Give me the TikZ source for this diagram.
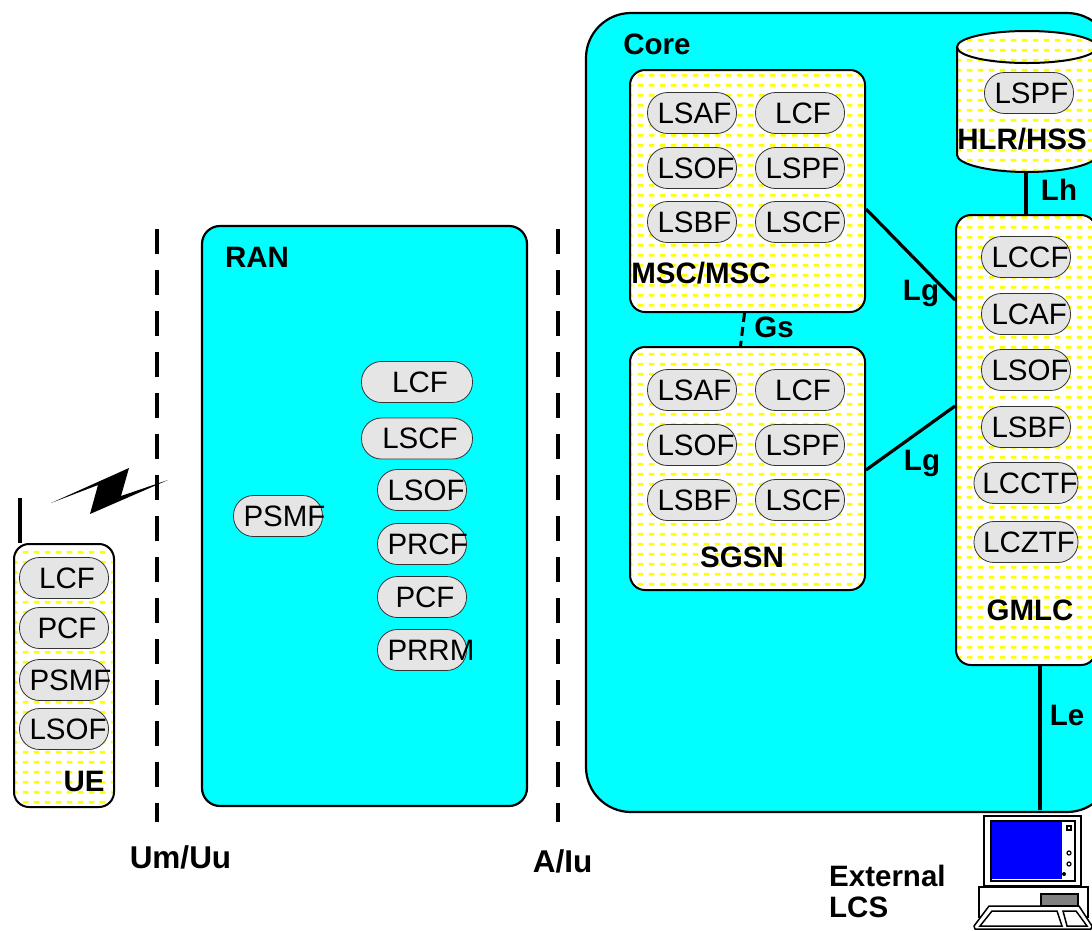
\documentclass[tikz,border=0pt]{standalone}
\usepackage{fontspec}
\setmainfont{Liberation Sans}
\usetikzlibrary{patterns}

\definecolor{corecyan}{RGB}{0,255,255}
\pgfdeclarepatternformonly{dashgrid}{\pgfqpoint{0pt}{0pt}}{\pgfqpoint{10.6pt}{10.35pt}}{\pgfqpoint{10.6pt}{10.35pt}}{
  \pgfpathrectangle{\pgfqpoint{2pt}{3.5pt}}{\pgfqpoint{5.6pt}{3pt}}
  \pgfusepath{fill}
}
\newcommand{\wide}[1]{\makebox[69pt][l]{#1}}

\begin{document}
\begin{tikzpicture}[x=1pt,y=-1pt]

\tikzset{area/.style = {draw,fill=corecyan,line width=2.2pt,inner sep=0pt}}
\tikzset{box/.style = {draw,line width=2pt,inner sep=0pt,rounded corners=15pt,preaction={fill=white},pattern=dashgrid,pattern color=yellow}}
\tikzset{pill/.style = {draw=black!80,fill=black!10,line width=0.8pt,inner sep=0pt,rounded corners=20pt,minimum width=89pt,minimum height=41pt,font=\fontsize{29.5}{30}\selectfont}}
\tikzset{lbl/.style = {inner sep=0pt,font=\fontsize{29.5}{31}\selectfont\bfseries}}
\tikzset{biglbl/.style = {inner sep=0pt,font=\fontsize{31.5}{34}\selectfont\bfseries}}
\tikzset{link/.style = {line width=3.2pt}}
\tikzset{border/.style = {line width=4pt,dash pattern=on 25pt off 16pt}}

\useasboundingbox (0,0) rectangle (1092,930);
\clip (0,0) rectangle (1092,930);

% areas
\node[area,minimum width=325pt,minimum height=580pt,rounded corners=18pt] (ran) at (364.5,516) {};
\node[area,minimum width=526pt,minimum height=799pt,rounded corners=45pt] (core) at (849,412.5) {};
\node[lbl] (ranlbl) at (257,257) {RAN};
\node[lbl] (corelbl) at (657,44) {Core};

% interfaces
\coordinate (umtop) at (157,229);
\coordinate (umbot) at (157,822);
\coordinate (iutop) at (558,229);
\coordinate (iubot) at (558,822);
\draw[border] (umtop) -- (umbot);
\draw[border] (iutop) -- (iubot);
\node[biglbl] (umuu) at (180.5,857) {Um/Uu};
\node[biglbl] (aiu) at (562.5,861) {A/Iu};

% UE
\coordinate (aerial) at (20,498);
\node[box,minimum width=100pt,minimum height=263pt] (ue) at (64,675.5) {};
\draw[line width=3.5pt] (aerial) -- (aerial |- ue.north);
\fill (51,503) -- (129,468) -- (121,496) -- (168,480) -- (90,514) -- (98,485) -- cycle;
\node[pill] (uelcf) at (64,578) {\hspace{6pt}LCF};
\node[pill] (uepcf) at (64,628) {\hspace{6pt}PCF};
\node[pill] (uepsmf) at (64,680) {\wide{PSMF}};
\node[pill] (uelsof) at (64,729) {\wide{LSOF}};
\node[lbl] (uelbl) at (84,781) {UE};

% RAN
\node[pill] (ranpsmf) at (278,516) {\wide{PSMF}};
\node[pill,minimum width=111pt] (ranlcf) at (417,382) {\hspace{6pt}LCF};
\node[pill,minimum width=111pt] (ranlscf) at (417,438.5) {\hspace{6pt}LSCF};
\node[pill] (ranlsof) at (422,490) {\wide{LSOF}};
\node[pill] (ranprcf) at (422,544) {\wide{PRCF}};
\node[pill] (ranpcf) at (422,597) {\hspace{6pt}PCF};
\node[pill] (ranprrm) at (422,650) {\wide{PRRM}};

% MSC
\node[box,minimum width=235pt,minimum height=242pt] (msc) at (747.5,191) {};
\node[pill] (msclsaf) at (692,113) {\wide{LSAF}};
\node[pill] (msclcf) at (800,113) {\hspace{6pt}LCF};
\node[pill] (msclsof) at (692,168) {\wide{LSOF}};
\node[pill] (msclspf) at (800,168) {\wide{LSPF}};
\node[pill] (msclsbf) at (692,222) {\wide{LSBF}};
\node[pill] (msclscf) at (800,222) {\wide{LSCF}};
\node[lbl] (msclbl) at (701,273) {MSC/MSC};

% SGSN
\node[box,minimum width=235pt,minimum height=243pt] (sgsn) at (747.5,468.5) {};
\node[pill] (sgsnlsaf) at (692,390) {\wide{LSAF}};
\node[pill] (sgsnlcf) at (800,390) {\hspace{6pt}LCF};
\node[pill] (sgsnlsof) at (692,445) {\wide{LSOF}};
\node[pill] (sgsnlspf) at (800,445) {\wide{LSPF}};
\node[pill] (sgsnlsbf) at (692,500) {\wide{LSBF}};
\node[pill] (sgsnlscf) at (800,500) {\wide{LSCF}};
\node[lbl] (sgsnlbl) at (742,557) {SGSN};

% GMLC
\node[box,minimum width=140pt,minimum height=450pt] (gmlc) at (1026,440) {};
\node[pill] (gmlccf) at (1026,257) {\wide{LCCF}};
\node[pill] (gmlcaf) at (1026,314) {\wide{LCAF}};
\node[pill] (gmlsof) at (1026,370) {\wide{LSOF}};
\node[pill] (gmlsbf) at (1026,427) {\wide{LSBF}};
\node[pill,minimum width=104pt] (gmlctf) at (1026,483) {\hspace{8pt}LCCTF};
\node[pill,minimum width=104pt] (gmlztf) at (1026,542) {\hspace{6pt}LCZTF};
\node[lbl] (gmlbl) at (1030,610) {GMLC};

% HLR
\coordinate (hlrfoot) at (1026,172);
\draw[box,sharp corners] (957,47) .. controls (957,38) and (988,31) .. (1027,31) .. controls (1066,31) and (1097,38) .. (1097,47) -- (1097,155) .. controls (1097,164) and (1066,172) .. (1027,172) .. controls (988,172) and (957,164) .. (957,155) -- cycle;
\draw[line width=2pt] (957,47) .. controls (957,56) and (988,63) .. (1027,63) .. controls (1066,63) and (1097,56) .. (1097,47);
\node[pill] (hlrlspf) at (1029,93) {\wide{LSPF}};
\node[lbl] (hlrlbl) at (1022,139) {HLR/HSS};

% links
\coordinate (lefoot) at (1040,810);
\draw[link] (hlrfoot) -- (gmlc.north -| hlrfoot);
\draw[link] (lefoot |- gmlc.south) -- (lefoot);
\draw[link] ([yshift=-18pt]msc.east) -- ([yshift=140pt]gmlc.west);
\draw[link] ([yshift=-1.5pt]sgsn.east) -- ([yshift=34pt]gmlc.west);
\draw[line width=3pt,dash pattern=on 9pt off 5pt] ([xshift=-3pt]msc.south) -- ([xshift=-7pt]sgsn.north);
\node[lbl] (gs) at (774,327) {Gs};
\node[lbl] (lg1) at (921,293) {Lg};
\node[lbl] (lg2) at (922,463) {Lg};
\node[lbl] (lh) at (1059,190) {Lh};
\node[lbl] (le) at (1067,715) {Le};

% terminal
\draw[line width=1.5pt,fill=white] (984,816) rectangle (1081,886);
\draw[line width=2pt,fill=white] (991,821) rectangle (1075,881);
\fill[blue] (992,822) rectangle (1062,879);
\draw[line width=1.2pt] (1067,826) rectangle (1071,830);
\draw[line width=1.2pt] (1069,853) circle (2);
\draw[line width=1.2pt] (1069,864) circle (2);
\fill (1064,874) circle (2);
\draw[line width=1.5pt,fill=white] (979,887) rectangle (1088,917);
\draw[line width=1.5pt,fill=black!50] (1041,894) rectangle (1078,906);
\draw[line width=1.5pt,fill=white,line join=round] (989,906) -- (1079,906) -- (1092,926) -- (1091,929) -- (975,929) -- (974,926) -- cycle;
\draw[line width=1.5pt] (992,911) -- (1057,911) -- (1062,926) -- (980,926) -- cycle;
\draw[line width=1.5pt] (1063,911) -- (1076,911) -- (1087,926) -- (1067,926) -- cycle;
\node[lbl,align=left,anchor=north west] (extlcs) at (829,865) {External\\LCS};

\end{tikzpicture}
\end{document}
